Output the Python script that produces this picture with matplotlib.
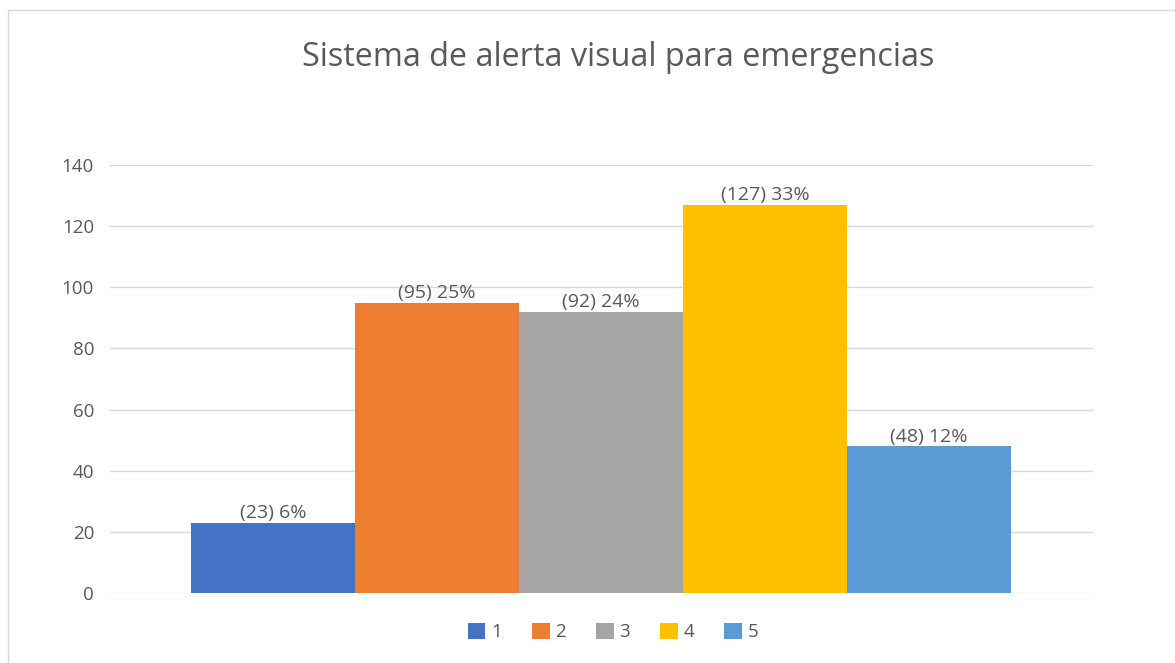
import matplotlib.pyplot as plt
from matplotlib.patches import Rectangle

# datos
categorias = ["1", "2", "3", "4", "5"]
valores = [23, 95, 92, 127, 48]
porcentajes = [6, 25, 24, 33, 12]
colores = ["#4472C4", "#ED7D31", "#A5A5A5", "#FFC000", "#5B9BD5"]
yticks = [0, 20, 40, 60, 80, 100, 120, 140]

plt.rcParams["font.family"] = ["Open Sans", "DejaVu Sans"]
gris = "#595959"

fig = plt.figure(figsize=(11.75, 6.63), dpi=100)
ax = fig.add_axes([110 / 1175, 1 - 593 / 663, 983 / 1175, 428 / 663])

# borde del grafico
fig.patches.append(Rectangle((8 / 1175, -0.01), 1.1, 1 - 10 / 663 + 0.01,
                             transform=fig.transFigure, fill=False,
                             edgecolor="#D9D9D9", linewidth=1))

x = list(range(len(valores)))
barras = ax.bar(x, valores, width=1.0, color=colores, label=categorias, zorder=2)

for xi, v, p in zip(x, valores, porcentajes):
    ax.annotate(f"({v}) {p}%", (xi, v), xytext=(0, 0.5), textcoords="offset points",
                ha="center", va="bottom", fontsize=14, color=gris)

ax.set_xlim(-0.995, 5.0)
ax.set_ylim(0, 140)
ax.set_yticks(yticks)
ax.set_xticks([])
ax.grid(axis="y", color="#D9D9D9", linewidth=1, zorder=0)
for s in ax.spines.values():
    s.set_visible(False)
ax.tick_params(axis="y", length=0, pad=11.5, labelsize=13.5, labelcolor=gris)

fig.text(618 / 1175, 1 - 58 / 663, "Sistema de alerta visual para emergencias",
         ha="center", va="center", fontsize=23.3, color=gris)

fig.legend(handles=barras, labels=categorias, loc="center",
           bbox_to_anchor=(613 / 1175, 1 - 632 / 663), ncol=5, frameon=False,
           fontsize=13.5, labelcolor=gris, handlelength=0.95, handleheight=0.95,
           handletextpad=0.3, columnspacing=1.6)

fig.savefig("out.png", dpi=100)
